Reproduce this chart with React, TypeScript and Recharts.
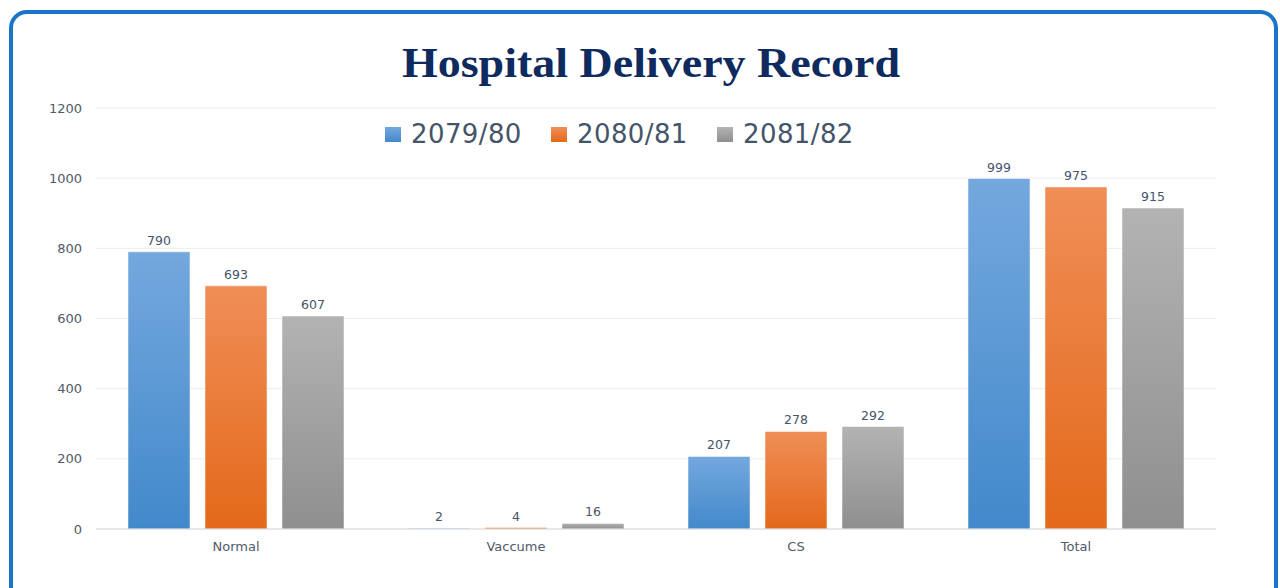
import React from "react";
import { BarChart, Bar, XAxis, YAxis, CartesianGrid, LabelList } from "recharts";

const categories = ["Normal", "Vaccume", "CS", "Total"];
const seriesNames = ["2079/80", "2080/81", "2081/82"];
const values7980 = [790, 2, 207, 999];
const values8081 = [693, 4, 278, 975];
const values8182 = [607, 16, 292, 915];
const yTicks = [0, 200, 400, 600, 800, 1000, 1200];

const seriesValues = [values7980, values8081, values8182];
const gradients = [
  { id: "gBlue", top: "#74a8de", bottom: "#4289cb" },
  { id: "gOrange", top: "#f08e57", bottom: "#e3691a" },
  { id: "gGray", top: "#b3b3b3", bottom: "#8f8f8f" },
];

const data = categories.map((c, i) => {
  const row: Record<string, string | number> = { name: c };
  seriesNames.forEach((s, k) => {
    row[s] = seriesValues[k][i];
  });
  return row;
});

const font = "'DejaVu Sans', 'Noto Sans', sans-serif";

export default function App() {
  return (
    <div style={{ position: "absolute", left: 0, top: 0, width: 1280, height: 588, overflow: "hidden", background: "#fff" }}>
      <div
        style={{
          position: "absolute",
          left: 9,
          top: 10,
          width: 1269,
          height: 620,
          border: "4px solid #1a75c9",
          borderRadius: 18,
          boxSizing: "border-box",
        }}
      />
      <div
        style={{
          position: "absolute",
          left: 0,
          top: 36,
          width: 1302,
          textAlign: "center",
          fontFamily: "'Liberation Serif', 'Times New Roman', serif",
          fontWeight: "bold",
          fontSize: 42,
          lineHeight: "54px",
          color: "#0e2a5e",
          transform: "scaleX(1.095)",
          transformOrigin: "651px 0",
        }}
      >
        Hospital Delivery Record
      </div>
      <div style={{ position: "absolute", left: 0, top: 116, width: 1280, height: 36 }}>
        {seriesNames.map((s, k) => (
          <div key={s} style={{ position: "absolute", left: 385 + k * 166, top: 0, height: 36, display: "flex", alignItems: "center" }}>
            <div style={{ width: 16, height: 15, background: `linear-gradient(${gradients[k].top}, ${gradients[k].bottom})`, marginRight: 10 }} />
            <span style={{ fontFamily: font, fontSize: 26, color: "#44546a", letterSpacing: 0.4 }}>{s}</span>
          </div>
        ))}
      </div>
      <div style={{ position: "absolute", left: 0, top: 0 }}>
        <BarChart
          width={1280}
          height={588}
          data={data}
          margin={{ top: 108, right: 64, left: 36, bottom: 29 }}
          barSize={62}
          barGap={15}
        >
          <defs>
            {gradients.map((g) => (
              <linearGradient key={g.id} id={g.id} x1="0" y1="0" x2="0" y2="1">
                <stop offset="0%" stopColor={g.top} />
                <stop offset="100%" stopColor={g.bottom} />
              </linearGradient>
            ))}
          </defs>
          <CartesianGrid vertical={false} stroke="#ececec" strokeWidth={1} />
          <XAxis
            dataKey="name"
            height={30}
            tickLine={false}
            axisLine={{ stroke: "#d9d9d9" }}
            tick={{ fontFamily: font, fontSize: 13, fill: "#505a6a" }}
            tickMargin={7}
          />
          <YAxis
            width={60}
            domain={[0, 1200]}
            ticks={yTicks}
            axisLine={false}
            tickLine={false}
            tickMargin={8}
            tick={{ fontFamily: font, fontSize: 13, fill: "#505a6a" }}
          />
          {seriesNames.map((s, k) => (
            <Bar key={s} dataKey={s} fill={`url(#${gradients[k].id})`} stroke="#ffffff" strokeOpacity={0.5} strokeWidth={1} isAnimationActive={false}>
              <LabelList dataKey={s} position="top" offset={7} style={{ fontFamily: font, fontSize: 12.5, fill: "#44546a" }} />
            </Bar>
          ))}
        </BarChart>
      </div>
    </div>
  );
}
